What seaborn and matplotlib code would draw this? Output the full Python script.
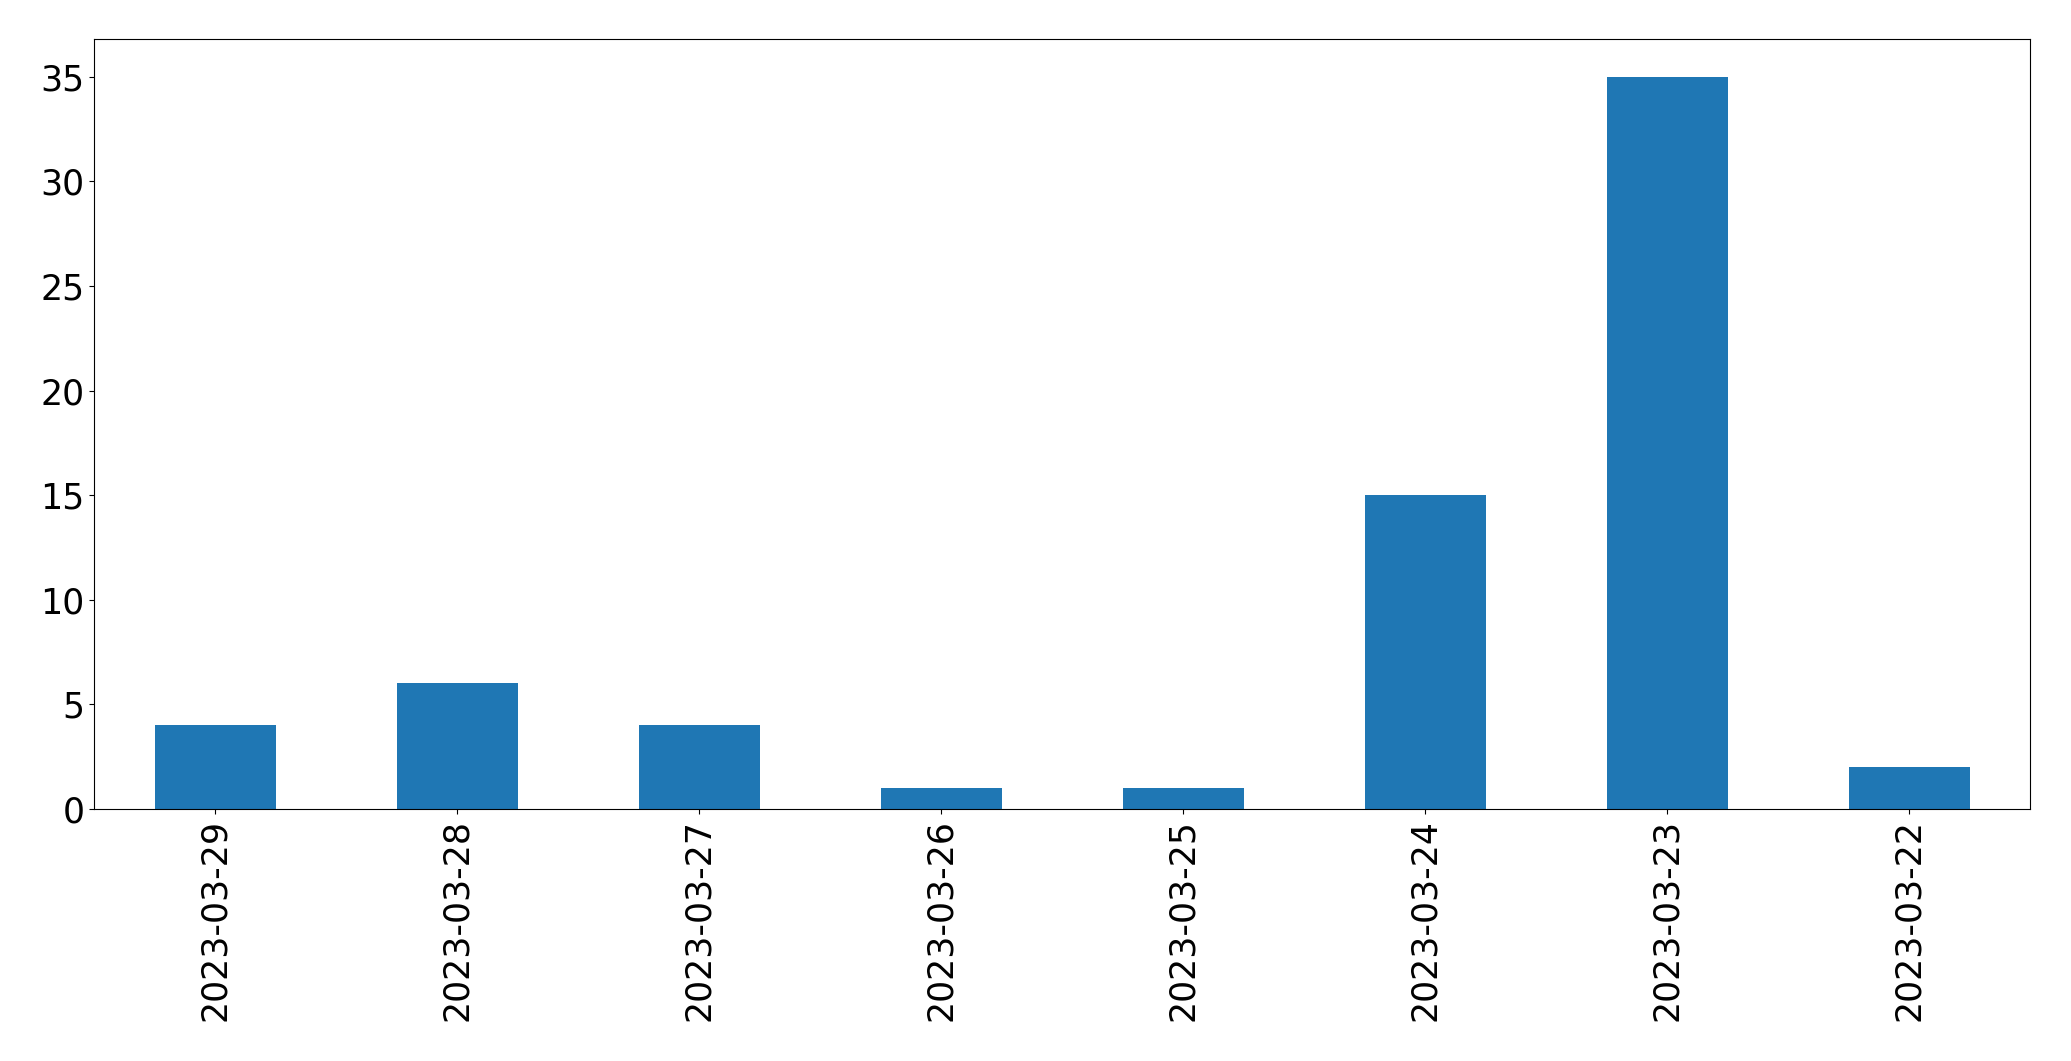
import matplotlib
matplotlib.use("Agg")
import matplotlib.pyplot as plt
import pandas as pd
import seaborn as sns

# counts per day, in the order they appear on the chart
dates = ["2023-03-29", "2023-03-28", "2023-03-27", "2023-03-26",
         "2023-03-25", "2023-03-24", "2023-03-23", "2023-03-22"]
counts = [4, 6, 4, 1, 1, 15, 35, 2]

df = pd.DataFrame({"date": dates, "count": counts})

fig = plt.figure(figsize=(20.71, 10.61), dpi=100)
ax = fig.add_axes([94 / 2071, 1 - 809 / 1061, (2030 - 94) / 2071, (809 - 39) / 1061])

sns.barplot(data=df, x="date", y="count", color="#1f77b4", saturation=1,
            width=0.5, ax=ax)

ax.set_xlabel("")
ax.set_ylabel("")
ax.set_xlim(-0.5, len(dates) - 0.5)
ax.set_ylim(0, 36.8)
ax.tick_params(axis="both", labelsize=25)
ax.tick_params(axis="x", labelrotation=90)

fig.savefig("out.png", dpi=100)
